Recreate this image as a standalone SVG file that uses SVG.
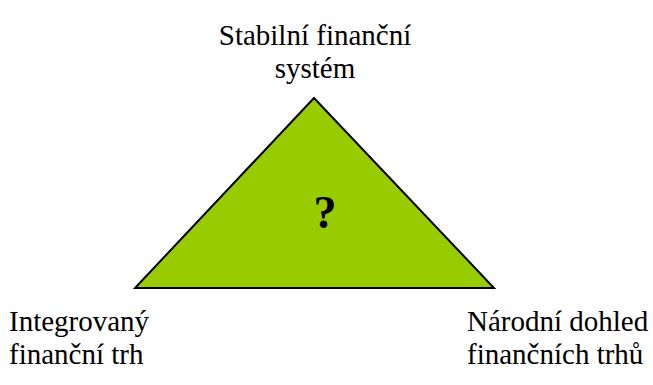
<svg xmlns="http://www.w3.org/2000/svg" width="653" height="385" viewBox="0 0 653 385">
<style>
text{font-family:'Liberation Serif','Times New Roman',Tinos,'DejaVu Serif',serif;fill:#000}
.t{font-size:29px;font-weight:400;font-style:normal}
.q{font-size:46px;font-weight:700}
</style>
<rect width="653" height="385" fill="#fff"/>
<g id="triangle">
<polygon points="314,98 135,288 494,288" fill="#99CC00" stroke="#000" stroke-width="2" stroke-linejoin="miter"/>
<text class="q" x="325" y="228" text-anchor="middle">?</text>
</g>
<g id="top">
<text class="t" x="315" y="45" text-anchor="middle">Stabilní finanční</text>
<text class="t" x="315" y="78" text-anchor="middle">systém</text>
</g>
<g id="left">
<text class="t" x="9" y="331">Integrovaný</text>
<text class="t" x="9" y="364">finanční trh</text>
</g>
<g id="right">
<text class="t" x="467" y="331">Národní dohled</text>
<text class="t" x="467" y="364">finančních trhů</text>
</g>
<g id="connectors"/>
</svg>
